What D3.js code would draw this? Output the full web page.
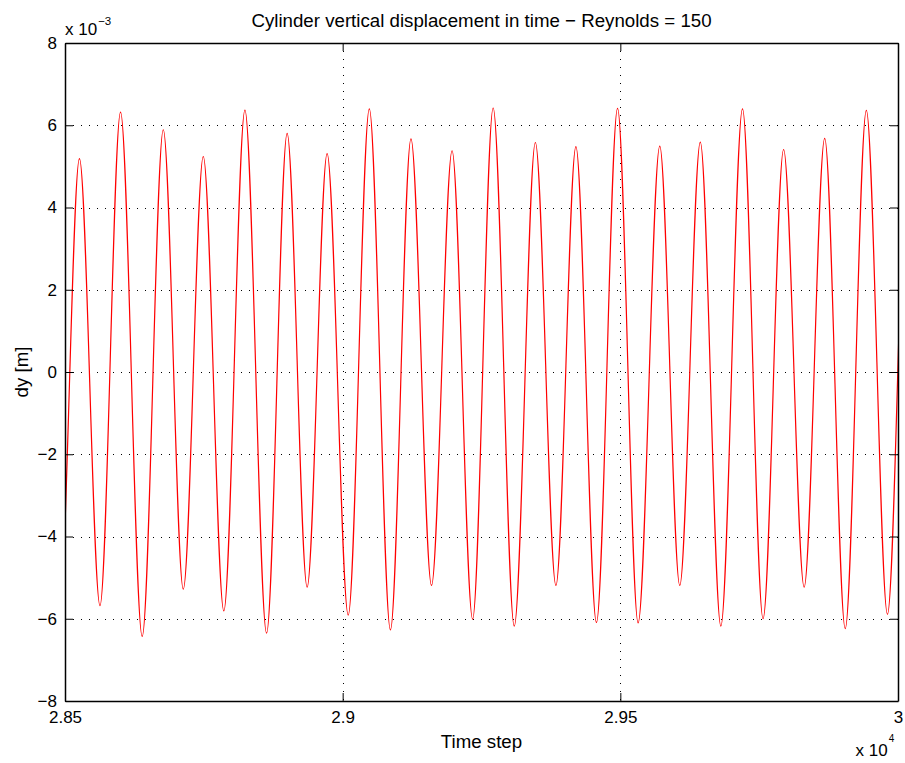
<!DOCTYPE html>
<html><head><meta charset="utf-8">
<script src="https://cdn.jsdelivr.net/npm/d3@7"></script>
<style>body{margin:0;background:#fff} text{font-family:"Liberation Sans",Arial,Helvetica,sans-serif;fill:#000}</style>
</head><body><svg id="c" width="905" height="763"></svg>
<script>
// values in units of 1e-3 m
const peakSteps = [28450, 28526, 28600, 28677, 28749, 28824, 28900, 28972, 29048, 29123, 29197, 29271, 29347, 29420, 29495, 29571, 29644, 29720, 29794, 29868, 29943, 30018];
const peakValues = [5.5, 5.19, 6.32, 5.89, 5.24, 6.37, 5.80, 5.31, 6.40, 5.67, 5.38, 6.42, 5.58, 5.48, 6.41, 5.49, 5.59, 6.40, 5.41, 5.68, 6.36, 5.8];
const troughSteps = [28490, 28563, 28639, 28713, 28786, 28863, 28936, 29010, 29086, 29160, 29234, 29309, 29384, 29457, 29532, 29607, 29681, 29757, 29831, 29905, 29981, 30056];
const troughValues = [-5.8, -5.68, -6.43, -5.28, -5.81, -6.35, -5.23, -5.91, -6.27, -5.19, -6.01, -6.18, -5.19, -6.09, -6.10, -5.19, -6.18, -6.00, -5.23, -6.24, -5.89, -5.8];
const xTicks = [28500, 29000, 29500, 30000];
const xTickLabels = ["2.85", "2.9", "2.95", "3"];
const yTicks = [-8, -6, -4, -2, 0, 2, 4, 6, 8];
const yTickLabels = ["\u22128", "\u22126", "\u22124", "\u22122", "0", "2", "4", "6", "8"];

const svg = d3.select("#c");
const L = 65, R = 898, T = 43, B = 701;
const x = d3.scaleLinear().domain([28500, 30000]).range([L, R]);
const y = d3.scaleLinear().domain([-8, 8]).range([B, T]);

const pts = peakSteps.map((s, i) => [s, peakValues[i]])
  .concat(troughSteps.map((s, i) => [s, troughValues[i]]))
  .sort((a, b) => a[0] - b[0]);

// grid
const g = svg.append("g");
g.selectAll(".gx").data(xTicks.slice(1, -1)).join("line")
  .attr("x1", d => Math.round(x(d)) + 0.5).attr("x2", d => Math.round(x(d)) + 0.5)
  .attr("y1", T).attr("y2", B)
  .attr("stroke", "#000").attr("stroke-width", 1).attr("stroke-dasharray", "1,7");
g.selectAll(".gy").data(yTicks.slice(1, -1)).join("line")
  .attr("y1", d => Math.round(y(d)) + 0.5).attr("y2", d => Math.round(y(d)) + 0.5)
  .attr("x1", L).attr("x2", R)
  .attr("stroke", "#000").attr("stroke-width", 1).attr("stroke-dasharray", "1,7");

// data line
svg.append("clipPath").attr("id", "clip").append("rect")
  .attr("x", L).attr("y", T).attr("width", R - L).attr("height", B - T);
svg.append("path").datum(pts)
  .attr("clip-path", "url(#clip)")
  .attr("fill", "none").attr("stroke", "#ff0000").attr("stroke-width", 1.2)
  .attr("d", d3.line().x(d => x(d[0])).y(d => y(d[1])).curve(d3.curveMonotoneX));

// axes
const axB = d3.axisBottom(x).tickValues(xTicks).tickFormat((d, i) => xTickLabels[i]).tickSizeInner(-8).tickSizeOuter(0).tickPadding(10);
const axT = d3.axisTop(x).tickValues(xTicks).tickFormat("").tickSizeInner(-8).tickSizeOuter(0);
const axLf = d3.axisLeft(y).tickValues(yTicks).tickFormat((d, i) => yTickLabels[i]).tickSizeInner(-8).tickSizeOuter(0).tickPadding(8);
const axRt = d3.axisRight(y).tickValues(yTicks).tickFormat("").tickSizeInner(-8).tickSizeOuter(0);

function style(sel) {
  sel.selectAll("path").attr("stroke", "#000").attr("stroke-width", 1.5);
  sel.selectAll("line").attr("stroke", "#000");
  sel.selectAll("text").attr("font-family", null).style("font-size", "17px");
}
svg.append("g").attr("transform", `translate(0,${B})`).call(axB).call(style);
svg.append("g").attr("transform", `translate(0,${T})`).call(axT).call(style);
svg.append("g").attr("transform", `translate(${L},0)`).call(axLf).call(style);
svg.append("g").attr("transform", `translate(${R},0)`).call(axRt).call(style);

// labels
svg.append("text").attr("x", (L + R) / 2).attr("y", 27).attr("text-anchor", "middle")
  .style("font-size", "18.7px").text("Cylinder vertical displacement in time \u2212 Reynolds = 150");
svg.append("text").attr("x", (L + R) / 2).attr("y", 748).attr("text-anchor", "middle")
  .style("font-size", "18.7px").text("Time step");
svg.append("text").attr("transform", `translate(28,${(T + B) / 2}) rotate(-90)`).attr("text-anchor", "middle")
  .style("font-size", "18.7px").text("dy [m]");

const e1 = svg.append("text").attr("x", 65).attr("y", 34.5).style("font-size", "17px");
e1.append("tspan").text("x 10");
e1.append("tspan").attr("dx", 1).attr("dy", -9.5).style("font-size", "11.5px").text("\u22123");
const e2 = svg.append("text").attr("x", 855.5).attr("y", 755.5).style("font-size", "17px");
e2.append("tspan").text("x 10");
e2.append("tspan").attr("dx", 1).attr("dy", -13.5).style("font-size", "10px").text("4");
</script></body></html>
